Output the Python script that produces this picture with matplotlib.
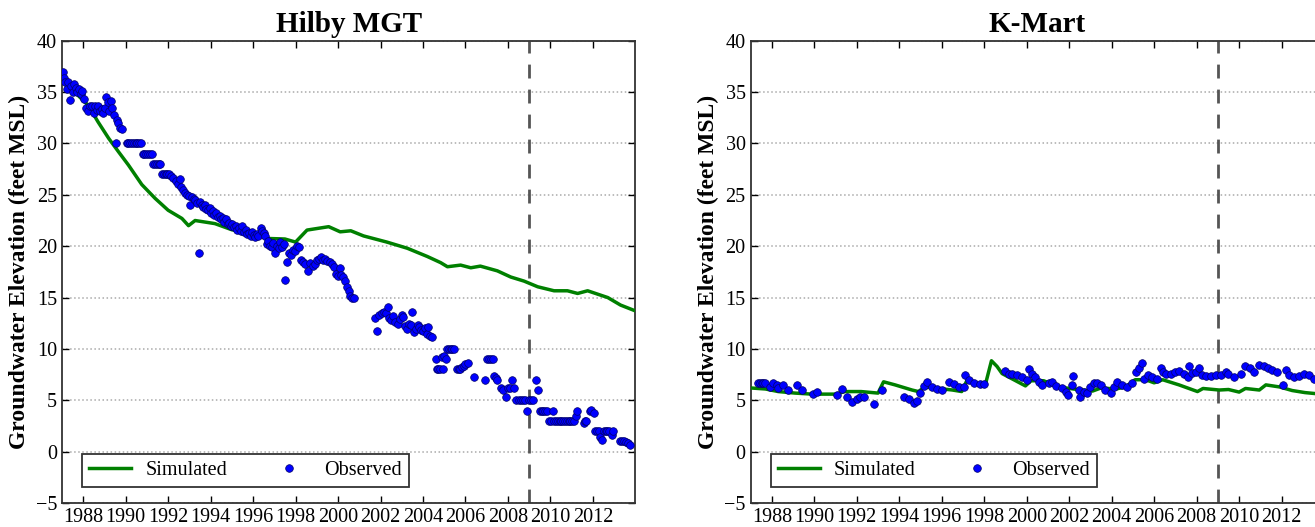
import matplotlib.pyplot as plt

# Hilby MGT - simulated
hilby_sim_year = [1987.0, 1987.6, 1988.24, 1988.7, 1989.2, 1989.66, 1990.13, 1990.76, 1991.39, 1992.0,
                  1992.65, 1992.96, 1993.27, 1994.2, 1995.0, 1995.63, 1996.1, 1996.73, 1997.5, 1998.0,
                  1998.54, 1999.56, 2000.1, 2000.6, 2001.2, 2002.3, 2003.26, 2004.2, 2004.83, 2005.15,
                  2005.77, 2006.25, 2006.7, 2007.5, 2008.13, 2008.76, 2009.4, 2010.17, 2010.8, 2011.28,
                  2011.75, 2012.7, 2013.3, 2014.0]
hilby_sim_val = [36.7, 35.0, 33.7, 32.1, 30.5, 29.2, 27.9, 26.0, 24.65, 23.5,
                 22.7, 22.0, 22.5, 22.2, 21.6, 21.4, 21.1, 20.75, 20.7, 20.4,
                 21.57, 21.9, 21.4, 21.5, 21.0, 20.4, 19.8, 19.0, 18.4, 18.0,
                 18.16, 17.9, 18.06, 17.6, 17.0, 16.6, 16.05, 15.66, 15.66, 15.4,
                 15.66, 15.0, 14.27, 13.7]

# Hilby MGT - observed
hilby_obs_year = [1987.05, 1987.1, 1987.15, 1987.25, 1987.3, 1987.38, 1987.45, 1987.5, 1987.55, 1987.65,
                  1987.72, 1987.8, 1987.88, 1987.95, 1988.05, 1988.15, 1988.25, 1988.32, 1988.4, 1988.5,
                  1988.58, 1988.65, 1988.72, 1988.8, 1988.88, 1988.95, 1989.02, 1989.08, 1989.15, 1989.22,
                  1989.3, 1989.38, 1989.45, 1989.55, 1989.58, 1989.65, 1989.75, 1989.85,
                  1990.05, 1990.13, 1990.22, 1990.3, 1990.38, 1990.47, 1990.55, 1990.63, 1990.72,
                  1990.8, 1990.88, 1990.97, 1991.05, 1991.13, 1991.22,
                  1991.3, 1991.38, 1991.47, 1991.55, 1991.63,
                  1991.72, 1991.8, 1991.88, 1991.97, 1992.05,
                  1992.15, 1992.25, 1992.35, 1992.45, 1992.55, 1992.62, 1992.7, 1992.8, 1992.88, 1993.0,
                  1993.05, 1993.12, 1993.2, 1993.28, 1993.35, 1993.43, 1993.5, 1993.58, 1993.65, 1993.72,
                  1993.8, 1993.88, 1993.95, 1994.03, 1994.1, 1994.18, 1994.25, 1994.33, 1994.42, 1994.5,
                  1994.58, 1994.65, 1994.72, 1994.8, 1994.88, 1994.95, 1995.03, 1995.1, 1995.18, 1995.25,
                  1995.33, 1995.42, 1995.5, 1995.58, 1995.65, 1995.72, 1995.8, 1995.88, 1995.95, 1996.03,
                  1996.1, 1996.18, 1996.25, 1996.35, 1996.42, 1996.5, 1996.58, 1996.65, 1996.72, 1996.8,
                  1996.88, 1996.95, 1997.05, 1997.12, 1997.2, 1997.28, 1997.36, 1997.45, 1997.5, 1997.6,
                  1997.7, 1997.78, 1997.88, 1997.95, 1998.05, 1998.15, 1998.25, 1998.35, 1998.45, 1998.6,
                  1998.7, 1998.8, 1998.93, 1999.02, 1999.1, 1999.2, 1999.3, 1999.4, 1999.5, 1999.6,
                  1999.7, 1999.8, 1999.9, 2000.0, 2000.08, 2000.15, 2000.25, 2000.33, 2000.42, 2000.5,
                  2000.58, 2000.68, 2000.75,
                  2001.75, 2001.85, 2001.95, 2002.05, 2002.15, 2002.25, 2002.33, 2002.42, 2002.5, 2002.6,
                  2002.7, 2002.8, 2002.9, 2003.0, 2003.08, 2003.17, 2003.25, 2003.33, 2003.42, 2003.5,
                  2003.58, 2003.67, 2003.75, 2003.83, 2003.92, 2004.0, 2004.08, 2004.17, 2004.25, 2004.33,
                  2004.42,
                  2004.6, 2004.65, 2004.72, 2004.8, 2004.88, 2004.95, 2005.0, 2005.08, 2005.15, 2005.23,
                  2005.3, 2005.38, 2005.45, 2005.6, 2005.68, 2005.75, 2005.83, 2005.92, 2006.0, 2006.1,
                  2006.4, 2006.9, 2007.0, 2007.1, 2007.2, 2007.28, 2007.32, 2007.42, 2007.5, 2007.65,
                  2007.78, 2007.9, 2008.0, 2008.1, 2008.2, 2008.3, 2008.4, 2008.5, 2008.6, 2008.7,
                  2008.8, 2008.9, 2009.0, 2009.1, 2009.2, 2009.3, 2009.42, 2009.5, 2009.58, 2009.66,
                  2009.75, 2009.85, 2009.93, 2010.02, 2010.1, 2010.18, 2010.27, 2010.35, 2010.43, 2010.52,
                  2010.6, 2010.68, 2010.77, 2010.85, 2010.93, 2011.02, 2011.1, 2011.2, 2011.27, 2011.57,
                  2011.62, 2011.67, 2011.86, 2011.92, 2012.06, 2012.12, 2012.2, 2012.28, 2012.35, 2012.45,
                  2012.52, 2012.6, 2012.68, 2012.76, 2012.88, 2012.96, 2013.26, 2013.35, 2013.45, 2013.55,
                  2013.65, 2013.75]
hilby_obs_val = [37.0, 36.4, 36.0, 35.3, 36.0, 34.2, 35.6, 35.0, 35.8, 35.4,
                 35.0, 35.3, 34.8, 35.1, 34.3, 33.5, 33.2, 33.6, 33.6, 33.0,
                 33.6, 33.3, 33.6, 33.2, 33.4, 33.0, 33.5, 34.5, 34.0, 33.2,
                 34.1, 33.5, 32.8, 30.0, 32.3, 32.0, 31.5, 31.4,
                 30.0, 30.0, 30.0, 30.0, 30.0, 30.0, 30.0, 30.0, 30.0,
                 29.0, 29.0, 29.0, 29.0, 29.0, 29.0,
                 28.0, 28.0, 28.0, 28.0, 28.0,
                 27.0, 27.0, 27.0, 27.0, 27.0,
                 26.8, 26.6, 26.3, 26.1, 26.5, 25.8, 25.5, 25.2, 25.0, 24.9,
                 24.0, 24.8, 24.6, 24.5, 24.2, 19.3, 24.3, 24.0, 23.8, 24.0,
                 23.6, 23.5, 23.7, 23.2, 23.4, 23.0, 23.2, 22.8, 22.9, 22.6,
                 22.7, 22.4, 22.6, 22.2, 22.3, 22.0, 22.2, 21.9, 22.0, 21.6,
                 21.8, 21.5, 22.0, 21.4, 21.6, 21.2, 21.3, 21.0, 21.4, 21.1,
                 20.9, 21.2, 21.0, 21.8, 21.5, 21.3, 21.0, 20.2, 20.5, 20.0,
                 19.9, 20.3, 19.3, 20.0, 19.8, 20.4, 19.9, 20.2, 16.7, 18.5,
                 19.3, 19.1, 19.6, 19.5, 20.0, 19.9, 18.7, 18.5, 18.3, 17.6,
                 18.4, 18.1, 18.3, 18.7, 18.8, 18.9, 18.7, 18.8, 18.6, 18.5,
                 18.3, 18.0, 17.3, 17.1, 17.9, 17.2, 17.0, 16.6, 16.0, 15.6,
                 15.2, 15.0, 15.0,
                 13.0, 11.7, 13.3, 13.5, 13.6, 13.5, 14.1, 13.0, 12.8, 13.2,
                 12.6, 12.4, 12.9, 13.3, 13.1, 12.2, 11.9, 12.4, 12.3, 13.6,
                 11.6, 11.9, 12.3, 12.1, 11.8, 11.7, 12.0, 11.5, 12.1, 11.3,
                 11.2,
                 9.0, 8.0, 8.0, 8.0, 9.2, 8.0, 9.3, 9.0, 10.0, 10.0,
                 10.0, 10.0, 10.0, 8.0, 8.0, 8.0, 8.2, 8.3, 8.5, 8.6,
                 7.3, 7.0, 9.0, 9.0, 9.0, 9.0, 7.4, 7.2, 7.0, 6.2,
                 6.0, 5.3, 6.2, 6.2, 7.0, 6.2, 5.0, 5.0, 5.0, 5.0,
                 5.0, 4.0, 5.0, 5.0, 5.0, 7.0, 6.0, 4.0, 4.0, 4.0,
                 4.0, 4.0, 3.0, 3.0, 4.0, 3.0, 3.0, 3.0, 3.0, 3.0,
                 3.0, 3.0, 3.0, 3.0, 3.0, 3.0, 3.0, 3.5, 4.0, 2.8,
                 3.0, 3.0, 4.0, 4.1, 3.8, 2.0, 2.0, 2.0, 1.4, 1.1,
                 2.0, 2.0, 2.0, 2.0, 1.6, 2.0, 1.0, 1.0, 1.0, 0.9,
                 0.8, 0.6]

# K-Mart - simulated
kmart_sim_year = [1987.0, 1987.7, 1988.3, 1989.1, 1989.9, 1991.0, 1991.45, 1992.2, 1993.0, 1993.26,
                  1993.8, 1994.6, 1994.9, 1995.2, 1995.85, 1996.5, 1996.94, 1997.2, 1997.7, 1998.05,
                  1998.34, 1998.6, 1998.84, 1999.3, 1999.94, 2000.2, 2000.8, 2001.5, 2002.2, 2003.1,
                  2003.5, 2004.2, 2004.66, 2005.1, 2005.6, 2006.0, 2006.4, 2007.17, 2008.04, 2008.3,
                  2009.06, 2009.5, 2010.0, 2010.3, 2010.95, 2011.26, 2011.9, 2012.5, 2013.1, 2013.6,
                  2014.0]
kmart_sim_val = [6.2, 6.1, 5.85, 5.7, 5.6, 5.6, 5.85, 5.85, 5.7, 6.8,
                 6.5, 6.0, 5.85, 6.3, 6.15, 6.0, 5.85, 7.0, 6.5, 6.5,
                 8.85, 8.3, 7.6, 7.1, 6.4, 6.9, 6.9, 6.3, 6.1, 5.9,
                 6.2, 6.1, 6.3, 7.0, 7.0, 6.7, 7.0, 6.5, 5.85, 6.15,
                 6.0, 6.05, 5.8, 6.15, 6.0, 6.5, 6.3, 5.95, 5.75, 5.65,
                 5.5]

# K-Mart - observed
kmart_obs_year = [1987.36, 1987.44, 1987.52, 1987.6, 1987.68, 1987.92, 1988.07, 1988.23, 1988.3, 1988.54,
                  1988.78, 1989.17, 1989.41, 1989.96, 1990.12, 1991.06, 1991.3, 1991.53, 1991.77, 1992.0,
                  1992.16, 1992.32, 1992.8, 1993.2, 1994.2, 1994.44, 1994.67, 1994.83, 1994.99, 1995.15,
                  1995.3, 1995.54, 1995.78, 1996.01, 1996.33, 1996.56, 1996.8, 1997.03, 1997.1, 1997.27,
                  1997.5, 1997.82, 1997.98, 1999.0, 1999.16, 1999.32, 1999.55, 1999.79, 2000.02, 2000.1,
                  2000.25, 2000.4, 2000.57, 2000.7, 2001.04, 2001.2, 2001.4, 2001.67, 2001.83, 2001.95,
                  2002.14, 2002.2, 2002.45, 2002.5, 2002.7, 2002.85, 2003.0, 2003.16, 2003.3, 2003.5,
                  2003.7, 2003.95, 2004.1, 2004.26, 2004.5, 2004.7, 2004.97, 2005.13, 2005.3, 2005.44,
                  2005.5, 2005.7, 2005.9, 2006.15, 2006.3, 2006.4, 2006.54, 2006.8, 2007.0, 2007.17,
                  2007.4, 2007.6, 2007.65, 2007.8, 2007.96, 2008.1, 2008.27, 2008.43, 2008.67, 2008.9,
                  2009.13, 2009.37, 2009.5, 2009.77, 2010.1, 2010.3, 2010.5, 2010.7, 2010.95, 2011.18,
                  2011.34, 2011.57, 2011.8, 2012.05, 2012.2, 2012.36, 2012.6, 2012.83, 2013.07, 2013.3,
                  2013.54]
kmart_obs_val = [6.64, 6.64, 6.7, 6.64, 6.7, 6.3, 6.7, 6.5, 6.15, 6.5,
                 6.05, 6.5, 6.05, 5.6, 5.85, 5.5, 6.1, 5.3, 4.8, 5.1,
                 5.3, 5.35, 4.6, 6.0, 5.35, 5.1, 4.7, 4.9, 5.7, 6.4,
                 6.8, 6.3, 6.1, 6.0, 6.8, 6.55, 6.3, 6.3, 7.45, 6.97,
                 6.7, 6.6, 6.55, 7.85, 7.6, 7.6, 7.45, 7.3, 6.97, 8.05,
                 7.6, 7.3, 6.8, 6.5, 6.64, 6.8, 6.4, 6.2, 5.85, 5.5,
                 6.5, 7.37, 6.0, 5.3, 5.8, 5.67, 6.3, 6.64, 6.7, 6.5,
                 6.0, 5.75, 6.3, 6.8, 6.5, 6.3, 6.64, 7.8, 8.1, 8.65,
                 7.1, 7.45, 7.3, 7.1, 8.1, 7.8, 7.6, 7.6, 7.8, 7.85,
                 7.6, 7.3, 8.35, 7.7, 7.8, 8.1, 7.45, 7.37, 7.37, 7.45,
                 7.5, 7.8, 7.6, 7.3, 7.6, 8.35, 8.1, 7.8, 8.4, 8.35,
                 8.1, 7.9, 7.8, 6.5, 7.95, 7.45, 7.3, 7.37, 7.6, 7.45,
                 7.1]

titles = ['Hilby MGT', 'K-Mart']
year_ticks = list(range(1988, 2013, 2))
y_ticks = list(range(-5, 41, 5))
split_year = 2009.0

plt.rcParams['font.family'] = ['Liberation Serif', 'DejaVu Serif']

fig = plt.figure(figsize=(13.15, 5.27), dpi=100)
ax1 = fig.add_axes([0.0471, 0.0455, 0.4361, 0.8772])
ax2 = fig.add_axes([0.5708, 0.0455, 0.4361, 0.8772])

panels = [(ax1, hilby_sim_year, hilby_sim_val, hilby_obs_year, hilby_obs_val),
          (ax2, kmart_sim_year, kmart_sim_val, kmart_obs_year, kmart_obs_val)]

for i, (ax, sx, sy, ox, oy) in enumerate(panels):
    ax.plot(sx, sy, color='#008000', linewidth=2.5, label='Simulated', zorder=3)
    ax.plot(ox, oy, linestyle='none', marker='o', markersize=5.5, color='#0000ff',
            markeredgecolor='#000066', markeredgewidth=0.5, label='Observed', zorder=4)
    ax.axvline(split_year, color='#555555', linestyle='--', linewidth=2, dashes=(5, 4), zorder=2)

    ax.set_xlim(1987, 2014)
    ax.set_ylim(-5, 40)
    ax.set_xticks(year_ticks)
    ax.set_yticks(y_ticks)
    ax.tick_params(direction='in', top=True, right=True, length=5, width=1, labelsize=14.5)
    ax.grid(axis='y', linestyle=':', color='#aaaaaa', linewidth=1.1)
    ax.set_axisbelow(True)
    for sp in ax.spines.values():
        sp.set_linewidth(1.3)
        sp.set_color('#333333')

    ax.set_title(titles[i], fontsize=21, fontweight='bold', pad=6)
    ax.set_ylabel('Groundwater Elevation (feet MSL)', fontsize=17, fontweight='bold', labelpad=4)

    leg = ax.legend(loc='lower left', bbox_to_anchor=(0.035, 0.035), ncol=2, numpoints=1,
                    fancybox=False, framealpha=1, edgecolor='#333333', fontsize=14.5,
                    handlelength=2.1, handletextpad=0.7, columnspacing=2.0,
                    borderpad=0.35, borderaxespad=0)
    leg.get_frame().set_linewidth(1.3)

fig.savefig('out.png', dpi=100)
